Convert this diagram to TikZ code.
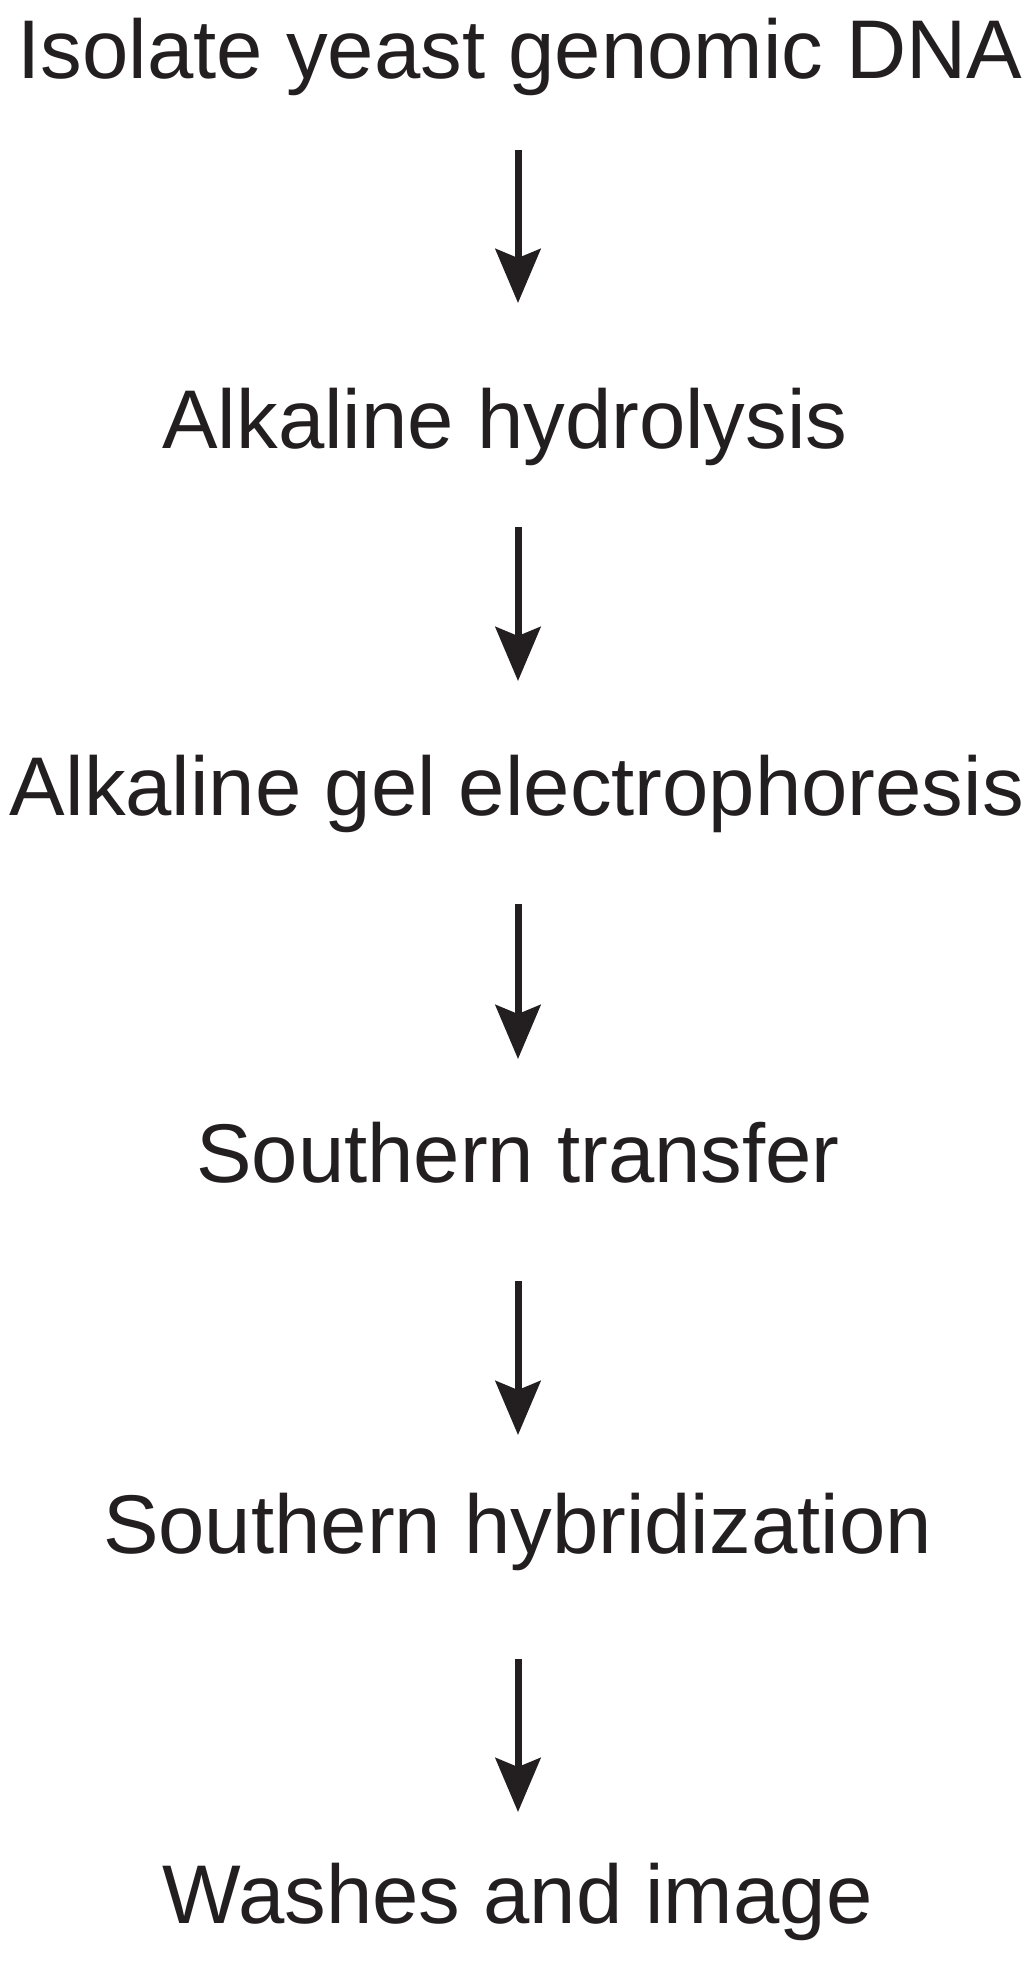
\documentclass[tikz,border=0pt]{standalone}
\usepackage{fontspec}
\setmainfont{Liberation Sans}
\usetikzlibrary{arrows.meta, positioning}
\definecolor{tinta}{HTML}{231F20}

\begin{document}
\begin{tikzpicture}[x=1pt, y=1pt, font=\fontsize{83.3}{100}\selectfont,
        stage/.style={inner sep=0pt, outer sep=0pt, text height=60pt, text depth=0pt,
            anchor=base, text=tinta},
        flow/.style={-{Stealth[length=54pt, width=45pt, inset=9pt]}, line width=7pt, draw=tinta, fill=tinta}]
        \useasboundingbox (0,0) rectangle (1033,-1961);
        \coordinate (axis) at (518,0);
        \node[stage] (iso)  at (520,-79)    {Isolate yeast genomic DNA};
        \node[stage] (hyd)  at (505,-448)   {Alkaline hydrolysis};
        \node[stage] (gel)  at (517,-815)   {Alkaline gel electrophoresis};
        \node[stage] (tra)  at (518,-1182)  {Southern transfer};
        \node[stage] (hyb)  at (517.5,-1553) {Southern hybridization};
        \node[stage] (img)  at (517.5,-1923) {Washes and image};
        \foreach \a/\b/\s/\e in {iso/hyd/71/85, hyd/gel/79/74, gel/tra/89/63, tra/hyb/99/58, hyb/img/106/51}
            \draw[flow, shorten <=\s pt, shorten >=\e pt] (\a.south -| axis) -- (\b.north -| axis);
    \end{tikzpicture}
\end{document}
